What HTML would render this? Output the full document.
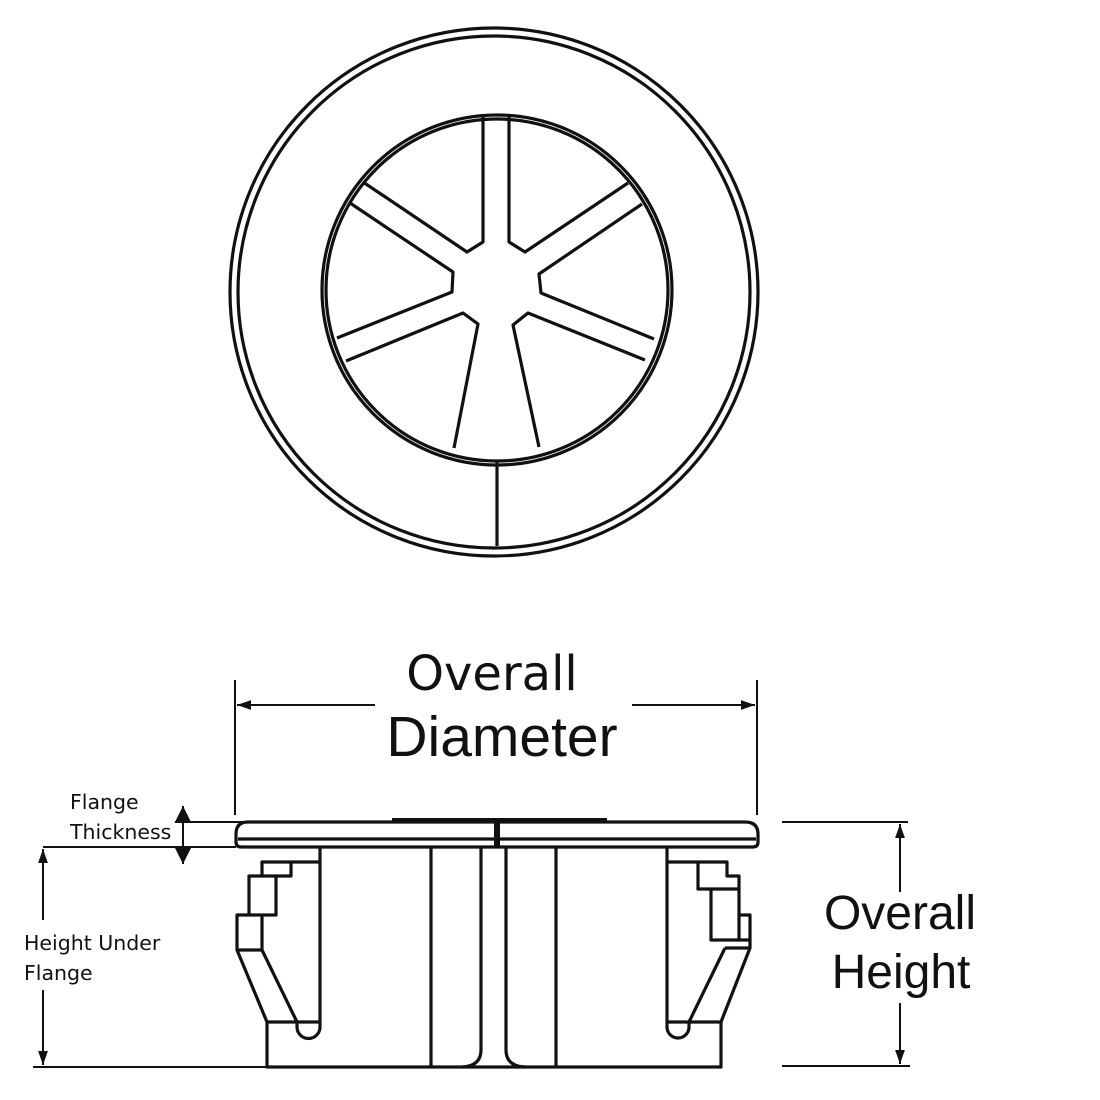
<!DOCTYPE html>
<html><head><meta charset="utf-8"><style>
html,body{margin:0;padding:0;background:#fff;}
svg{display:block}
.t{font-family:"Liberation Sans",Arial,sans-serif;fill:#111}
.c{font-family:"DejaVu Sans","Liberation Sans",sans-serif;fill:#111}
</style></head><body>
<svg width="1100" height="1100" viewBox="0 0 1100 1100" xmlns="http://www.w3.org/2000/svg">
<defs>
<marker id="a" viewBox="0 0 10 10" refX="10" refY="5" markerWidth="14" markerHeight="14" markerUnits="userSpaceOnUse" orient="auto"><path d="M0,1.5 L10,5 L0,8.5 Z" fill="#111"/></marker>
<marker id="b" viewBox="0 0 10 10" refX="10" refY="5" markerWidth="17" markerHeight="17" markerUnits="userSpaceOnUse" orient="auto"><path d="M0,0 L10,5 L0,10 Z" fill="#111"/></marker>
</defs>
<g fill="none" stroke="#111" stroke-width="3.2" stroke-linejoin="round">
<circle cx="494" cy="292" r="264"/>
<circle cx="494" cy="292" r="256"/>
<circle cx="497" cy="290" r="175"/>
<circle cx="497" cy="290" r="171"/>
<line x1="497" y1="462" x2="497" y2="546"/>
<path d="M483,117 L483,242 L467,252 L363,182"/>
<path d="M350,203 L453,272 L452,292 L337,338"/>
<path d="M346,361 L463,313 L478,324 L454,448"/>
<path d="M539,447 L513,325 L528,313 L645,360"/>
<path d="M654,339 L541,293 L539,274 L642,204"/>
<path d="M628,183 L525,252 L509,242 L509,117"/>
<path d="M248,822 L745,822 Q758,822 758,834 L758,842 Q758,847 753,847 L241,847 Q236,847 236,842 L236,834 Q236,822 248,822 Z"/>
<line x1="238" y1="839" x2="756" y2="839"/>
<line x1="392" y1="820" x2="607" y2="820" stroke-width="4"/>
<line x1="497" y1="822" x2="497" y2="847" stroke-width="6"/>
<line x1="320" y1="847" x2="320" y2="1028"/>
<line x1="667" y1="847" x2="667" y2="1028"/>
<path d="M267,1022 L267,1067 L721,1067 L721,1022"/>
<line x1="431" y1="847" x2="431" y2="1067"/>
<line x1="556" y1="847" x2="556" y2="1067"/>
<path d="M481,847 L481,1050 Q481,1066 462,1067"/>
<path d="M506,847 L506,1050 Q506,1066 525,1067"/>
<path d="M320,862 L262,862 L262,876 L249,876 L249,915 L237,915 L237,950 L267,1022 L320,1022"/>
<path d="M291,862 L291,876 L262,876"/>
<path d="M276,876 L276,915 L249,915"/>
<path d="M262,915 L262,950 L237,950"/>
<path d="M262,950 L297,1022 L297,1027 A11.5,11.5 0 0 0 320,1027"/>
<path d="M667,862 L727,862 L727,876 L739,876 L739,915 L750,915 L750,948 L721,1022 L667,1022"/>
<path d="M698,862 L698,889 L739,889"/>
<path d="M711,889 L711,940 L750,940"/>
<path d="M739,915 L739,940"/>
<path d="M725,948 L750,948"/>
<path d="M725,948 L689,1022 L689,1027 A11,11 0 0 1 667,1027"/>
</g>
<g fill="none" stroke="#111" stroke-width="2">
<line x1="235" y1="680" x2="235" y2="815"/>
<line x1="757" y1="680" x2="757" y2="815"/>
<line x1="375" y1="705" x2="237" y2="705" marker-end="url(#a)"/>
<line x1="632" y1="705" x2="755" y2="705" marker-end="url(#a)"/>
<line x1="175" y1="822" x2="245" y2="822"/>
<line x1="43" y1="847" x2="236" y2="847"/>
<line x1="33" y1="1067" x2="268" y2="1067"/>
<line x1="43" y1="920" x2="43" y2="849" marker-end="url(#a)"/>
<line x1="43" y1="990" x2="43" y2="1065" marker-end="url(#a)"/>
<line x1="183" y1="835" x2="183" y2="806" marker-end="url(#b)"/>
<line x1="183" y1="834" x2="183" y2="864" marker-end="url(#b)"/>
<line x1="782" y1="822" x2="908" y2="822"/>
<line x1="782" y1="1066" x2="910" y2="1066"/>
<line x1="900" y1="892" x2="900" y2="824" marker-end="url(#a)"/>
<line x1="900" y1="1003" x2="900" y2="1064" marker-end="url(#a)"/>
</g>
<text class="c" x="492" y="690" font-size="48" text-anchor="middle">Overall</text>
<text class="t" x="502" y="756" font-size="57" text-anchor="middle">Diameter</text>
<text class="t" x="900" y="929" font-size="48" text-anchor="middle">Overall</text>
<text class="t" x="901" y="988" font-size="48" text-anchor="middle">Height</text>
<text class="c" x="70" y="809" font-size="20.5">Flange</text>
<text class="c" x="70" y="839" font-size="20.5">Thickness</text>
<text class="c" x="24" y="950" font-size="20.5">Height Under</text>
<text class="c" x="24" y="980" font-size="20.5">Flange</text>
</svg>
</body></html>
